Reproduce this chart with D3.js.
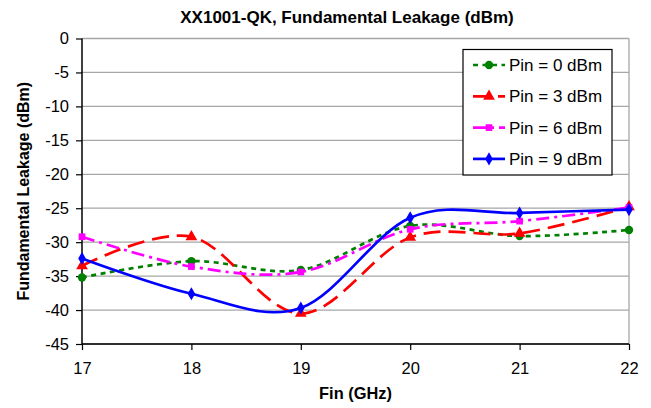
<!DOCTYPE html>
<html><head><meta charset="utf-8">
<script src="https://cdn.jsdelivr.net/npm/d3@7"></script>
<style>body{margin:0;background:#fff}svg{display:block;font-family:"Liberation Sans",Arial,sans-serif}</style>
</head><body><svg id="c" width="651" height="408"></svg>
<script>
const freqs = [17, 18, 19, 20, 21, 22];
const pin0 = [-35.2, -32.8, -34.1, -27.6, -29.1, -28.2];
const pin3 = [-33.5, -29.2, -40.5, -29.3, -28.7, -24.8];
const pin6 = [-29.2, -33.6, -34.4, -28.1, -26.9, -24.9];
const pin9 = [-32.4, -37.6, -39.7, -26.4, -25.7, -25.2];
const seriesNames = ["Pin = 0 dBm", "Pin = 3 dBm", "Pin = 6 dBm", "Pin = 9 dBm"];
const yTicks = [0, -5, -10, -15, -20, -25, -30, -35, -40, -45];

const styles = [
  {color:"#008000", dash:"5,4.5", marker:"circle"},
  {color:"#ff0000", dash:"17,8", marker:"triangle"},
  {color:"#ff00ff", dash:"13,5,3,5", marker:"square"},
  {color:"#0000ff", dash:null, marker:"diamond"}
];
const series = [pin0, pin3, pin6, pin9].map((v,i)=>({name:seriesNames[i], values:v, ...styles[i]}));

const svg = d3.select("#c");
const L=82, R=629, T=38.5, B=344;
const x = d3.scaleLinear().domain([17,22]).range([L,R]);
const y = d3.scaleLinear().domain([-45,0]).range([B,T]);

// gridlines
svg.append("g").selectAll("line").data(yTicks).join("line")
  .attr("x1",L).attr("x2",R).attr("y1",d=>y(d)).attr("y2",d=>y(d))
  .attr("stroke","#a6a6a6").attr("stroke-width",1.3);
svg.append("line").attr("x1",R).attr("x2",R).attr("y1",T).attr("y2",B).attr("stroke","#a6a6a6").attr("stroke-width",1.3);

// axes
const yAxis = svg.append("g").attr("transform",`translate(${L},0)`)
  .call(d3.axisLeft(y).tickValues(yTicks).tickSize(6).tickPadding(7).tickFormat(d=>String(d)));
const xAxis = svg.append("g").attr("transform",`translate(0,${B})`)
  .call(d3.axisBottom(x).tickValues(freqs).tickSize(6).tickPadding(12).tickFormat(d=>String(d)));
[yAxis,xAxis].forEach(a=>{
  a.select(".domain").attr("stroke","#000").attr("stroke-width",1.5);
  a.selectAll(".tick line").attr("stroke","#000").attr("stroke-width",1.2);
  a.selectAll("text").attr("font-size",16.5).attr("fill","#000").attr("font-family","Liberation Sans, Arial, sans-serif");
});
yAxis.select(".domain").attr("d",`M0,${T}V${B}`);
xAxis.select(".domain").attr("d",`M${L},0H${R}`);

const line = d3.line().x((d,i)=>x(freqs[i])).y(d=>y(d)).curve(d3.curveCatmullRom.alpha(0));

const symMap = {circle:d3.symbolCircle, triangle:d3.symbolTriangle, square:d3.symbolSquare, diamond:d3.symbolDiamond};
const symSize = {circle:55, triangle:60, square:45, diamond:50};

series.forEach(s=>{
  svg.append("path").datum(s.values).attr("d",line).attr("fill","none")
    .attr("stroke",s.color).attr("stroke-width",2.7).attr("stroke-dasharray",s.dash);
  svg.append("g").selectAll("path").data(s.values).join("path")
    .attr("transform",(d,i)=>`translate(${x(freqs[i])},${y(d)})`)
    .attr("d",d3.symbol(symMap[s.marker],symSize[s.marker])).attr("fill",s.color);
});

// legend
const lg = svg.append("g");
lg.append("rect").attr("x",463).attr("y",49.5).attr("width",149).attr("height",125.5)
  .attr("fill","#fff").attr("stroke","#000").attr("stroke-width",1.2);
series.forEach((s,i)=>{
  const yy = 65 + i*31.3;
  lg.append("line").attr("x1",473).attr("x2",505).attr("y1",yy).attr("y2",yy)
    .attr("stroke",s.color).attr("stroke-width",2.7).attr("stroke-dasharray",s.dash);
  lg.append("path").attr("transform",`translate(489,${yy})`).attr("d",d3.symbol(symMap[s.marker],symSize[s.marker])).attr("fill",s.color);
  lg.append("text").attr("x",509).attr("y",yy+6).attr("font-size",17).text(s.name);
});

// titles
svg.append("text").attr("x",347).attr("y",22.5).attr("text-anchor","middle").attr("font-size",17).attr("font-weight","bold").text("XX1001-QK, Fundamental Leakage (dBm)");
svg.append("text").attr("x",355.5).attr("y",399).attr("text-anchor","middle").attr("font-size",16.4).attr("font-weight","bold").text("Fin (GHz)");
svg.append("text").attr("transform",`translate(28.5,${(T+B)/2}) rotate(-90)`).attr("text-anchor","middle").attr("font-size",16).attr("font-weight","bold").text("Fundamental Leakage (dBm)");
</script></body></html>
